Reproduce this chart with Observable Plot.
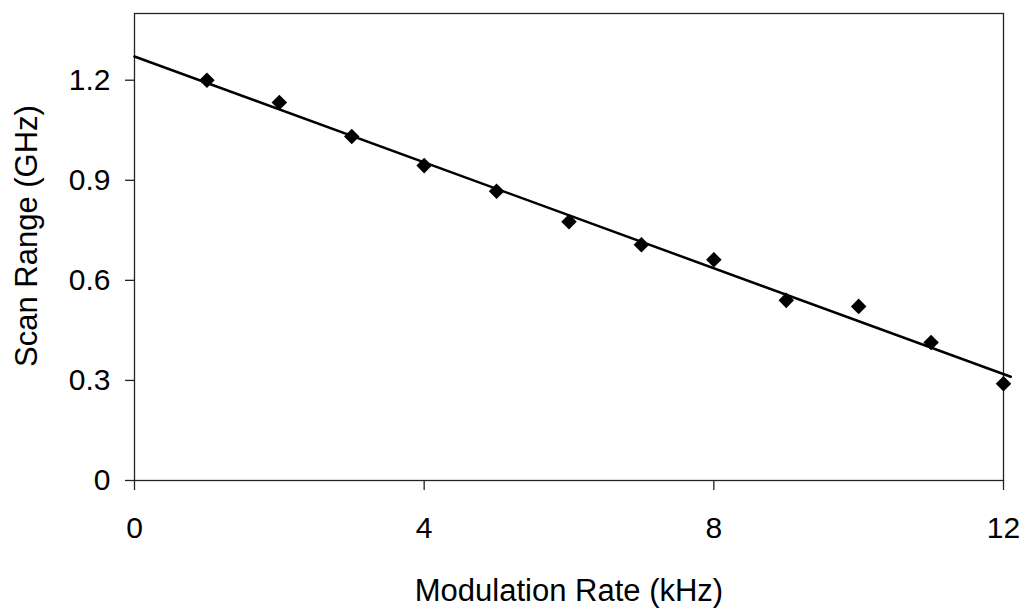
<!DOCTYPE html>
<html>
<head>
<meta charset="utf-8">
<script src="https://cdn.jsdelivr.net/npm/d3@7"></script>
<script src="https://cdn.jsdelivr.net/npm/@observablehq/plot@0.6"></script>
<style>
  html, body { margin: 0; padding: 0; background: #fff; }
  #chart svg { display: block; }
</style>
</head>
<body>
<div id="chart"></div>
<script>
// Measured data (Modulation Rate in kHz, Scan Range in GHz)
const rate = [1, 2, 3, 4, 5, 6, 7, 8, 9, 10, 11, 12];
const scanRange = [1.200, 1.133, 1.031, 0.944, 0.867, 0.776, 0.707, 0.662, 0.540, 0.522, 0.414, 0.290];

// Linear trendline endpoints as drawn
const trendX = [0, 12.1];
const trendY = [1.271, 0.311];

// Axis ticks
const xTicks = [0, 4, 8, 12];
const yTicks = [0, 0.3, 0.6, 0.9, 1.2];
const yTickLabels = ["0", "0.3", "0.6", "0.9", "1.2"];

const xLabel = "Modulation Rate (kHz)";
const yLabel = "Scan Range (GHz)";

const points = rate.map((x, i) => ({x, y: scanRange[i]}));
const trend = trendX.map((x, i) => ({x, y: trendY[i]}));

const font = "'Liberation Sans', Arial, Helvetica, sans-serif";

const chart = Plot.plot({
  width: 1028,
  height: 611,
  marginLeft: 134,
  marginRight: 25,
  marginTop: 13,
  marginBottom: 131,
  style: {fontFamily: font, fontSize: "30px", color: "#000", background: "#fff"},
  x: {domain: [0, 12]},
  y: {domain: [0, 1.4]},
  marks: [
    Plot.frame({stroke: "#222", strokeWidth: 1.3}),
    Plot.axisX({
      ticks: xTicks, tickSize: 10, tickPadding: 26, label: null,
      fontSize: 30, stroke: "#222", strokeWidth: 1.3
    }),
    Plot.axisY({
      ticks: yTicks, tickSize: 9, tickPadding: 15, label: null,
      tickFormat: (d) => yTickLabels[yTicks.indexOf(d)],
      fontSize: 30, stroke: "#222", strokeWidth: 1.3
    }),
    Plot.line(trend, {x: "x", y: "y", stroke: "#000", strokeWidth: 2.5}),
    Plot.dot(points, {x: "x", y: "y", symbol: "diamond2", r: 7, fill: "#000", stroke: "none"}),
    Plot.text([xLabel], {
      frameAnchor: "bottom", dy: 111, text: (d) => d,
      fontSize: 31, textAnchor: "middle", lineAnchor: "middle", fill: "#000"
    }),
    Plot.text([yLabel], {
      frameAnchor: "left", dx: -107, dy: -11, rotate: -90, text: (d) => d,
      fontSize: 31, textAnchor: "middle", lineAnchor: "middle", fill: "#000"
    })
  ]
});

document.getElementById("chart").appendChild(chart);
</script>
</body>
</html>
